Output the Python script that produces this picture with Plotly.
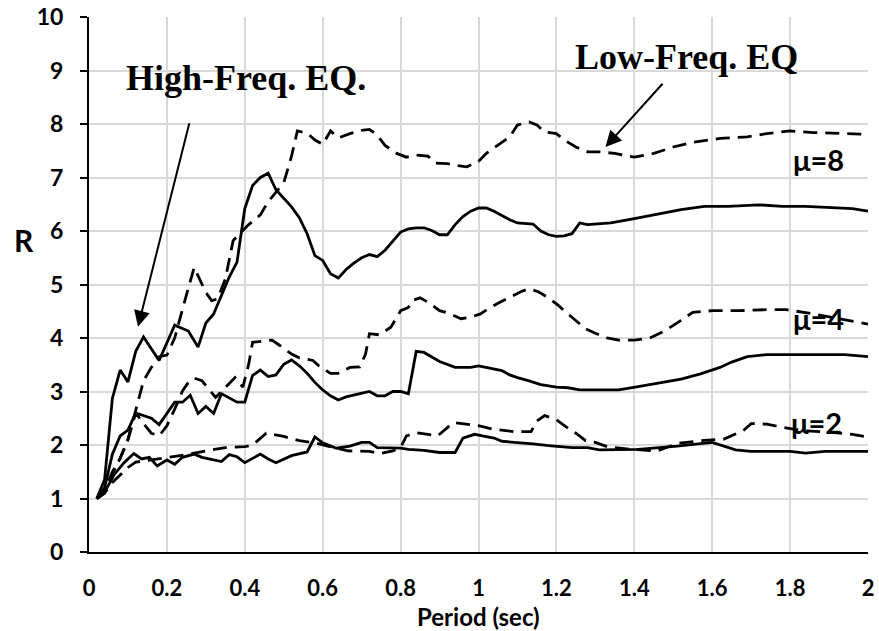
import plotly.graph_objects as go

# Strength reduction factor R versus period, high- vs low-frequency records
# ---- High-frequency earthquake (solid lines) ----
hf_mu2_T = [0.02, 0.04, 0.065, 0.09, 0.115, 0.135, 0.155, 0.175, 0.20, 0.22, 0.24, 0.27, 0.29, 0.32,
            0.34, 0.36, 0.38, 0.40, 0.42, 0.44, 0.46, 0.48, 0.52, 0.56, 0.58, 0.60, 0.635, 0.67, 0.70,
            0.72, 0.74, 0.76, 0.80, 0.82, 0.86, 0.90, 0.94, 0.96, 0.99, 1.01, 1.04, 1.06, 1.10, 1.14,
            1.18, 1.24, 1.28, 1.31, 1.41, 1.51, 1.60, 1.66, 1.70, 1.80, 1.84, 1.89, 2.0]
hf_mu2_R = [1.0, 1.12, 1.45, 1.67, 1.84, 1.74, 1.77, 1.61, 1.72, 1.64, 1.77, 1.83, 1.77, 1.72,
            1.69, 1.82, 1.78, 1.67, 1.75, 1.83, 1.74, 1.67, 1.80, 1.87, 2.15, 2.04, 1.94, 1.98, 2.05,
            2.05, 1.95, 1.95, 1.94, 1.92, 1.90, 1.86, 1.86, 2.13, 2.20, 2.17, 2.13, 2.07, 2.05, 2.02,
            1.99, 1.95, 1.95, 1.91, 1.92, 1.98, 2.05, 1.91, 1.88, 1.88, 1.85, 1.88, 1.88]

hf_mu4_T = [0.02, 0.04, 0.06, 0.08, 0.10, 0.12, 0.16, 0.18, 0.22, 0.24, 0.26, 0.28, 0.30, 0.32,
            0.34, 0.38, 0.40, 0.42, 0.44, 0.46, 0.48, 0.50, 0.52, 0.54, 0.56, 0.58, 0.60, 0.62,
            0.64, 0.66, 0.69, 0.72, 0.74, 0.76, 0.78, 0.80, 0.82, 0.84, 0.86, 0.88, 0.90, 0.94,
            0.98, 1.0, 1.04, 1.06, 1.08, 1.10, 1.13, 1.16, 1.20, 1.23, 1.26, 1.36, 1.41, 1.46,
            1.52, 1.57, 1.62, 1.65, 1.69, 1.74, 1.80, 1.88, 1.94, 2.0]
hf_mu4_R = [1.0, 1.2, 1.83, 2.17, 2.28, 2.60, 2.50, 2.38, 2.80, 2.80, 2.93, 2.59, 2.72, 2.59,
            2.96, 2.80, 2.80, 3.30, 3.40, 3.28, 3.31, 3.51, 3.59, 3.48, 3.34, 3.17, 3.03, 2.92,
            2.84, 2.90, 2.95, 3.0, 2.92, 2.92, 3.0, 3.0, 2.96, 3.75, 3.73, 3.65, 3.56, 3.45,
            3.45, 3.48, 3.42, 3.39, 3.31, 3.26, 3.20, 3.13, 3.08, 3.07, 3.03, 3.03, 3.09, 3.15,
            3.23, 3.33, 3.45, 3.55, 3.65, 3.69, 3.69, 3.69, 3.69, 3.65]

hf_mu8_T = [0.02, 0.04, 0.06, 0.08, 0.10, 0.12, 0.14, 0.18, 0.22, 0.255, 0.28, 0.30, 0.32, 0.345,
            0.36, 0.38, 0.40, 0.42, 0.44, 0.46, 0.48, 0.52, 0.54, 0.56, 0.58, 0.60, 0.62, 0.64,
            0.66, 0.68, 0.70, 0.72, 0.74, 0.76, 0.78, 0.80, 0.82, 0.84, 0.86, 0.88, 0.90, 0.92,
            0.94, 0.96, 0.98, 1.0, 1.02, 1.04, 1.06, 1.08, 1.10, 1.14, 1.16, 1.18, 1.20, 1.22,
            1.24, 1.26, 1.28, 1.34, 1.40, 1.46, 1.52, 1.58, 1.64, 1.72, 1.78, 1.84, 1.90, 1.96, 2.0]
hf_mu8_R = [1.0, 1.35, 2.87, 3.40, 3.18, 3.75, 4.02, 3.58, 4.24, 4.13, 3.83, 4.28, 4.45, 4.86,
            5.14, 5.42, 6.42, 6.85, 7.0, 7.08, 6.77, 6.45, 6.25, 5.95, 5.54, 5.45, 5.20, 5.12,
            5.28, 5.40, 5.50, 5.56, 5.52, 5.64, 5.82, 5.98, 6.04, 6.06, 6.06, 6.01, 5.93, 5.93,
            6.12, 6.27, 6.37, 6.43, 6.43, 6.37, 6.29, 6.21, 6.15, 6.13, 6.0, 5.93, 5.90, 5.91,
            5.95, 6.15, 6.12, 6.15, 6.23, 6.32, 6.40, 6.46, 6.46, 6.49, 6.46, 6.46, 6.44, 6.42, 6.37]

# ---- Low-frequency earthquake (dashed lines) ----
lf_mu2_T = [0.02, 0.04, 0.06, 0.08, 0.10, 0.12, 0.16, 0.20, 0.25, 0.30, 0.35, 0.40, 0.42, 0.455,
            0.50, 0.54, 0.58, 0.63, 0.665, 0.72, 0.745, 0.78, 0.80, 0.815, 0.84, 0.87, 0.895,
            0.935, 0.97, 1.0, 1.035, 1.065, 1.09, 1.135, 1.15, 1.17, 1.20, 1.225, 1.25, 1.275,
            1.30, 1.33, 1.39, 1.46, 1.51, 1.57, 1.63, 1.68, 1.70, 1.74, 1.78, 1.83, 1.90, 1.96, 2.0]
lf_mu2_R = [1.0, 1.1, 1.3, 1.45, 1.58, 1.68, 1.72, 1.77, 1.82, 1.89, 1.95, 1.97, 2.0, 2.22,
            2.16, 2.08, 2.04, 1.95, 1.89, 1.88, 1.84, 1.89, 1.95, 2.17, 2.23, 2.20, 2.17,
            2.42, 2.39, 2.36, 2.30, 2.28, 2.25, 2.25, 2.45, 2.55, 2.47, 2.34, 2.22, 2.08,
            2.05, 1.97, 1.92, 1.89, 2.03, 2.08, 2.11, 2.27, 2.40, 2.39, 2.33, 2.27, 2.24, 2.20, 2.15]

lf_mu4_T = [0.02, 0.04, 0.06, 0.08, 0.10, 0.12, 0.14, 0.16, 0.18, 0.20, 0.22, 0.24, 0.255, 0.27,
            0.29, 0.31, 0.325, 0.34, 0.36, 0.375, 0.395, 0.41, 0.42, 0.44, 0.47, 0.49, 0.52, 0.54,
            0.575, 0.59, 0.62, 0.64, 0.67, 0.695, 0.71, 0.72, 0.745, 0.775, 0.80, 0.82, 0.83, 0.85,
            0.87, 0.90, 0.925, 0.955, 0.98, 1.005, 1.03, 1.055, 1.08, 1.11, 1.13, 1.155, 1.18,
            1.205, 1.225, 1.25, 1.275, 1.30, 1.33, 1.36, 1.40, 1.44, 1.48, 1.52, 1.55, 1.60, 1.67,
            1.74, 1.79, 1.86, 1.93, 1.98, 2.0]
lf_mu4_R = [1.0, 1.15, 1.5, 1.75, 2.1, 2.6, 2.4, 2.22, 2.17, 2.36, 2.67, 3.01, 3.17, 3.25,
            3.20, 3.03, 2.89, 3.0, 3.15, 3.26, 3.08, 3.51, 3.92, 3.94, 3.96, 3.86, 3.70, 3.63,
            3.58, 3.48, 3.34, 3.34, 3.45, 3.46, 3.70, 4.08, 4.06, 4.20, 4.51, 4.57, 4.70, 4.75,
            4.67, 4.51, 4.46, 4.36, 4.39, 4.45, 4.57, 4.67, 4.76, 4.87, 4.92, 4.86, 4.75,
            4.61, 4.48, 4.33, 4.17, 4.09, 4.0, 3.96, 3.96, 4.0, 4.14, 4.33, 4.48, 4.51, 4.51,
            4.53, 4.53, 4.45, 4.36, 4.29, 4.26]

lf_mu8_T = [0.02, 0.04, 0.06, 0.08, 0.10, 0.12, 0.14, 0.16, 0.18, 0.20, 0.22, 0.25, 0.27, 0.30,
            0.315, 0.33, 0.35, 0.37, 0.39, 0.41, 0.44, 0.46, 0.50, 0.52, 0.535, 0.56, 0.58, 0.60,
            0.62, 0.64, 0.67, 0.70, 0.72, 0.74, 0.76, 0.79, 0.815, 0.84, 0.87, 0.89, 0.92, 0.94,
            0.97, 1.0, 1.02, 1.05, 1.08, 1.10, 1.13, 1.15, 1.17, 1.20, 1.22, 1.25, 1.28, 1.31,
            1.35, 1.40, 1.45, 1.50, 1.55, 1.62, 1.69, 1.74, 1.80, 1.86, 1.93, 1.98, 2.0]
lf_mu8_R = [1.0, 1.1, 1.45, 1.75, 2.1, 2.65, 3.2, 3.45, 3.65, 3.68, 4.0, 4.8, 5.32, 4.85,
            4.70, 4.73, 5.1, 5.82, 5.98, 6.12, 6.3, 6.55, 6.9, 7.4, 7.87, 7.83, 7.70, 7.62,
            7.87, 7.74, 7.82, 7.88, 7.90, 7.79, 7.60, 7.45, 7.38, 7.42, 7.40, 7.27, 7.26, 7.23,
            7.20, 7.30, 7.45, 7.60, 7.76, 7.98, 8.04, 7.98, 7.85, 7.82, 7.70, 7.57, 7.48, 7.48,
            7.45, 7.38, 7.45, 7.57, 7.66, 7.73, 7.76, 7.82, 7.87, 7.84, 7.82, 7.81, 7.76]

x_ticks = [0, 0.2, 0.4, 0.6, 0.8, 1.0, 1.2, 1.4, 1.6, 1.8, 2.0]
x_tick_text = ["0", "0.2", "0.4", "0.6", "0.8", "1", "1.2", "1.4", "1.6", "1.8", "2"]
y_ticks = list(range(0, 11))

SANS = "Lato"
SERIF = "Liberation Serif"
LINE_W = 2.8

fig = go.Figure()

solid_series = [(hf_mu2_T, hf_mu2_R), (hf_mu4_T, hf_mu4_R), (hf_mu8_T, hf_mu8_R)]
dashed_series = [(lf_mu2_T, lf_mu2_R), (lf_mu4_T, lf_mu4_R), (lf_mu8_T, lf_mu8_R)]

for t, r in dashed_series:
    fig.add_trace(go.Scatter(x=t, y=r, mode="lines",
                             line=dict(color="black", width=LINE_W, dash="14px,8px"),
                             hoverinfo="skip"))
for t, r in solid_series:
    fig.add_trace(go.Scatter(x=t, y=r, mode="lines",
                             line=dict(color="black", width=LINE_W),
                             hoverinfo="skip"))

fig.update_layout(
    width=879, height=631,
    margin=dict(l=89, r=11, t=17, b=79, autoexpand=False),
    plot_bgcolor="white", paper_bgcolor="white",
    showlegend=False,
)

fig.update_xaxes(
    range=[0, 2], tickvals=x_ticks, ticktext=x_tick_text, automargin=False,
    showgrid=True, gridcolor="#d9d9d9", gridwidth=1.5,
    showline=True, linecolor="black", linewidth=2,
    zeroline=False, ticks="", ticklabelstandoff=16,
    tickfont=dict(family=SANS, size=22, color="black", weight=700),
)
fig.update_yaxes(
    range=[0, 10], tickvals=y_ticks, automargin=False,
    showgrid=True, gridcolor="#d9d9d9", gridwidth=1.5,
    showline=True, linecolor="black", linewidth=2,
    zeroline=False, ticks="outside", ticklen=7, tickwidth=2, tickcolor="black",
    ticklabelstandoff=12,
    tickfont=dict(family=SANS, size=23, color="black", weight=700),
)

annotations = [
    # axis titles
    dict(text="Period (sec)", xref="paper", yref="paper", x=0.5, y=0, xanchor="center",
         yanchor="middle", yshift=-64, showarrow=False,
         font=dict(family=SANS, size=24, color="black", weight=700)),
    dict(text="R", xref="paper", yref="paper", x=-0.084, y=0.583, xanchor="center",
         showarrow=False, font=dict(family=SANS, size=30, color="black", weight=700)),
    # record labels
    dict(text="High-Freq. EQ.", xref="x", yref="y", x=0.404, y=8.86, xanchor="center",
         showarrow=False, font=dict(family=SERIF, size=36, color="black", weight=700)),
    dict(text="Low-Freq. EQ", xref="x", yref="y", x=1.534, y=9.26, xanchor="center",
         showarrow=False, font=dict(family=SERIF, size=36, color="black", weight=700)),
    # ductility labels
    dict(text="μ=8", xref="x", yref="y", x=1.872, y=7.33, xanchor="center", showarrow=False,
         font=dict(family=SANS, size=29, color="black", weight=700)),
    dict(text="μ=4", xref="x", yref="y", x=1.873, y=4.37, xanchor="center", showarrow=False,
         font=dict(family=SANS, size=29, color="black", weight=700)),
    dict(text="μ=2", xref="x", yref="y", x=1.868, y=2.43, xanchor="center", showarrow=False,
         font=dict(family=SANS, size=29, color="black", weight=700)),
    # pointer arrows
    dict(text="", xref="x", yref="y", axref="x", ayref="y",
         x=0.1258, y=4.21, ax=0.2585, ay=8.04,
         showarrow=True, arrowhead=2, arrowsize=1.6, arrowwidth=2, arrowcolor="black"),
    dict(text="", xref="x", yref="y", axref="x", ayref="y",
         x=1.326, y=7.57, ax=1.476, ay=8.78,
         showarrow=True, arrowhead=2, arrowsize=1.6, arrowwidth=2, arrowcolor="black"),
]
fig.update_layout(annotations=annotations)

fig.write_html("out.html")
